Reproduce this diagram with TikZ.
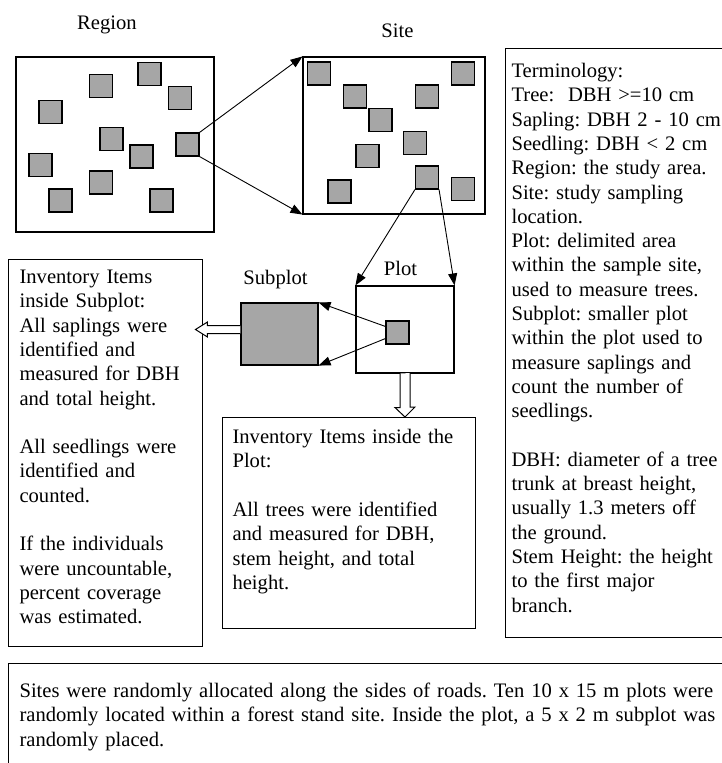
\documentclass[tikz,border=0pt]{standalone}
\usepackage{fontspec}
\setmainfont{Liberation Serif}
\usetikzlibrary{arrows.meta,calc}

\definecolor{plotgray}{RGB}{166,166,166}
\tikzset{
  area/.style={draw,line width=1.1pt,inner sep=0pt},
  sq/.style={draw,fill=plotgray,line width=1.1pt,minimum size=23pt,inner sep=0pt},
  note/.style={draw,line width=1.1pt,anchor=north west,align=left,inner ysep=0pt},
  link/.style={line width=.9pt,-{Triangle[length=12pt,width=9pt]}},
  hollow/.style={draw,fill=white,line width=1pt},
}
\frenchspacing

\begin{document}
\begin{tikzpicture}[x=1pt,y=-1pt,font=\fontsize{20.6}{24.3}\selectfont]
\useasboundingbox (0,0) rectangle (722,763);
\clip (0,0) rectangle (722,763);
% titles
\node[anchor=base] (lregion) at (107,29) {Region};
\node[anchor=base] (lsite) at (397.5,37) {Site};
\node[anchor=base] (lsubplot) at (275.5,284) {Subplot};
\node[anchor=base] (lplot) at (400.5,275) {Plot};
% region and site
\node[area,minimum width=198pt,minimum height=175pt] (region) at (115,144.5) {};
\node[area,minimum width=182pt,minimum height=157pt] (site) at (394,135.5) {};
\foreach \x/\y [count=\i] in {101/86,149.5/74,180/98,50.5/112,111.5/139,187.5/144.5,141.5/156.5,40.5/165,101/182.5,60.5/200.5,161.5/200.5}{\node[sq] (r\i) at (\x,\y) {};}
\foreach \x/\y [count=\i] in {319/73.5,463/73.5,355/96.5,427/96.5,380.5/120,415/143,367.5/156,427/177.5,339.5/191.5,463/189}{\node[sq] (s\i) at (\x,\y) {};}
% plot and subplot
\node[area,minimum width=98pt,minimum height=87pt] (plot) at (405,329.5) {};
\node[sq] (psq) at (397.5,332.5) {};
\node[area,fill=plotgray,minimum width=77pt,minimum height=62pt] (subplot) at (279.5,334) {};
% links
\draw[link] (r6.north east) -- (site.north west);
\draw[link] (r6.south east) -- (site.south west);
\draw[link] (s8.south west) -- (plot.north west);
\draw[link] (s8.south east) -- (plot.north east);
\draw[link] ($(psq.north west)!.25!(psq.south west)$) -- (subplot.north east);
\draw[link] ($(psq.north west)!.75!(psq.south west)$) -- (subplot.south east);
% notes
\node[note,inner xsep=11pt,text width=172pt,text height=24pt,text depth=363pt] (subinv) at (8,259) {Inventory Items\\inside Subplot:\\All saplings were\\identified and\\measured for DBH\\and total height.\\[24.3pt]All seedlings were\\identified and\\counted.\\[24.3pt]If the individuals\\were uncountable,\\percent coverage\\was estimated.};
\node[note,inner xsep=10pt,text width=233pt,text height=26pt,text depth=185pt] (plotinv) at (222,417) {Inventory Items inside the\\Plot:\\[24.3pt]All trees were identified\\and measured for DBH,\\stem height, and total\\height.};
\node[note,inner xsep=6pt,text width=215pt,text height=29pt,text depth=560pt] (terms) at (505,48) {Terminology:\\Tree:\ \ DBH >=10 cm\\Sapling: DBH 2 - 10 cm\\Seedling: DBH < 2 cm\\Region: the study area.\\Site: study sampling\\location.\\Plot: delimited area\\within the sample site,\\used to measure trees.\\Subplot: smaller plot\\within the plot used to\\measure saplings and\\count the number of\\seedlings.\\[24.3pt]DBH: diameter of a tree\\trunk at breast height,\\usually 1.3 meters off\\the ground.\\Stem Height: the height\\to the first major\\branch.};
\node[note,inner xsep=11pt,text width=740pt,text height=34pt,text depth=100pt] (method) at (8,663) {Sites were randomly allocated along the sides of roads. Ten 10 x 15 m plots were\\randomly located within a forest stand site. Inside the plot, a 5 x 2 m subplot was\\randomly placed.};
% hollow arrows
\draw[hollow] ($(subplot.west)+(0,-8.5)$) -- ++(-33,0) -- ++(0,-3.5) -- ++(-12,7.5) -- ++(12,7.5) -- ++(0,-3.5) -- ++(33,0);
\draw[hollow] ($(plot.south)+(-5,0)$) -- ++(0,34) -- ++(-5,0) -- (plotinv.north -| plot.south) -- ++(10,-10) -- ++(-5,0) -- ++(0,-34);
\end{tikzpicture}
\end{document}
